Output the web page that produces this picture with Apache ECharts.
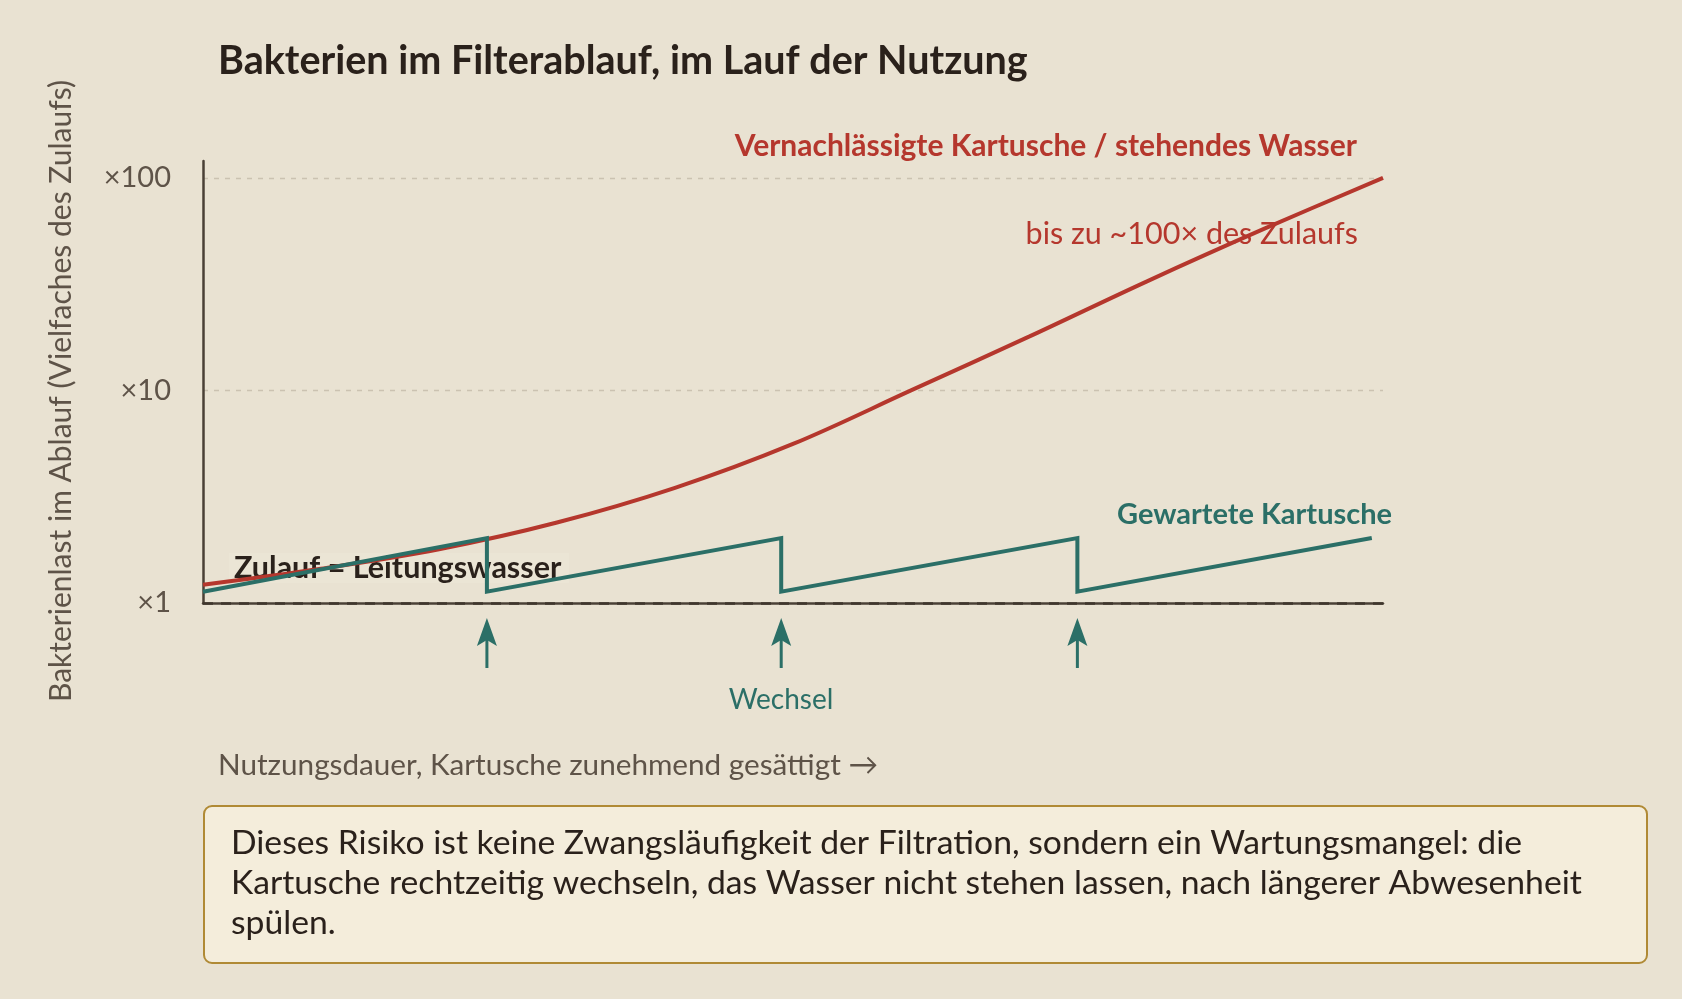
<!DOCTYPE html>
<html><head><meta charset="utf-8">
<script src="https://cdn.jsdelivr.net/npm/echarts@6/dist/echarts.min.js"></script>
<style>html,body{margin:0;padding:0;background:#e9e2d2;}#c{width:1682px;height:999px;}</style>
</head><body><div id="c"></div>
<script>
// ---- data ----
const usage = [0, 10, 20, 30, 40, 50, 60, 70, 80, 90, 100];
const neglected = [1.22, 1.45, 1.79, 2.39, 3.48, 5.6, 10.0, 17.9, 32.6, 57.8, 100];
const changes = [24.06, 49.0, 74.1];
const usageEnd = 99.05;
const maintainedPeak = 2.02;
const maintainedTrough = 1.13;
const yTicks = [1, 10, 100];
const tickLabels = {1: '×1', 10: '×10', 100: '×100'};

const RED = '#b5372d', TEAL = '#2b6f67', DARK = '#2a211b', GRAY = '#5e5348';
const FONT = 'Lato, "Open Sans", sans-serif';

// maintained sawtooth built from the readings
const maintained = [[0, maintainedTrough]];
changes.forEach(c => { maintained.push([c, maintainedPeak]); maintained.push([c, maintainedTrough]); });
maintained.push([usageEnd, maintainedPeak]);

const chart = echarts.init(document.getElementById('c'), null, {renderer: 'canvas'});
chart.setOption({
  backgroundColor: '#e9e2d2',
  animation: false,
  grid: {left: 203, right: 299, top: 161, bottom: 396},
  xAxis: {type: 'value', min: 0, max: 100,
    axisLine: {show: true, lineStyle: {color: '#4a4036', width: 2.5}},
    axisTick: {show: false}, axisLabel: {show: false}, splitLine: {show: false}},
  yAxis: {type: 'log', logBase: 10, min: 1, max: 120,
    axisLine: {show: true, lineStyle: {color: '#4a4036', width: 2.5}},
    axisTick: {show: false},
    axisLabel: {showMaxLabel: false, margin: 32, color: GRAY, fontFamily: FONT, fontSize: 29,
      formatter: v => tickLabels[Math.round(v)] || ''},
    splitLine: {show: true, showMinLine: false, showMaxLine: false,
      lineStyle: {type: [5, 6], color: '#cbc2b1', width: 1.3}}},
  series: [
    {type: 'line', data: usage.map((x, i) => [x, neglected[i]]), smooth: 0.35, symbol: 'none',
      lineStyle: {color: RED, width: 4}, z: 3,
      markLine: {silent: true, symbol: 'none', label: {show: false},
        lineStyle: {color: '#3f362d', type: [10, 8], width: 2.5},
        data: [[{coord: [0, 1]}, {coord: [100, 1]}]]}},
    {type: 'line', data: maintained, symbol: 'none',
      lineStyle: {color: TEAL, width: 4, join: 'miter'}, z: 4},
    {type: 'custom', data: changes.map(c => [c]), encode: {x: 0}, clip: false, z: 5,
      renderItem: (params, api) => {
        const p = api.coord([api.value(0), 1]);
        const x = p[0], y = p[1];
        return {type: 'group', children: [
          {type: 'line', shape: {x1: x, y1: y + 65, x2: x, y2: y + 36}, style: {stroke: TEAL, lineWidth: 3}},
          {type: 'polygon', shape: {points: [[x, y + 15], [x - 10, y + 43], [x, y + 37], [x + 10, y + 43]]},
            style: {fill: TEAL}}
        ]};
      }}
  ],
  graphic: [
    {type: 'text', x: 218, y: 61, style: {text: 'Bakterien im Filterablauf, im Lauf der Nutzung',
      font: 'bold 39.5px ' + FONT, fill: DARK, verticalAlign: 'middle'}},
    {type: 'text', x: 61, y: 391, rotation: Math.PI / 2, style: {text: 'Bakterienlast im Ablauf (Vielfaches des Zulaufs)',
      font: '30px ' + FONT, fill: GRAY, align: 'center', verticalAlign: 'middle'}},
    {type: 'text', x: 1357, y: 146, style: {text: 'Vernachlässigte Kartusche / stehendes Wasser',
      font: 'bold 30px ' + FONT, fill: RED, align: 'right', verticalAlign: 'middle'}},
    {type: 'text', x: 1358, y: 234, style: {text: 'bis zu ~100× des Zulaufs',
      font: '30.5px ' + FONT, fill: RED, align: 'right', verticalAlign: 'middle'}},
    {type: 'text', x: 1117, y: 515, style: {text: 'Gewartete Kartusche',
      font: 'bold 29px ' + FONT, fill: TEAL, align: 'left', verticalAlign: 'middle'}},
    {type: 'rect', shape: {x: 229, y: 553, width: 340, height: 30}, style: {fill: '#ebe5d5'}, z: 1},
    {type: 'text', x: 234, y: 568, z: 2, style: {text: 'Zulauf = Leitungswasser',
      font: 'bold 30.5px ' + FONT, fill: DARK, align: 'left', verticalAlign: 'middle'}},
    {type: 'text', x: 781, y: 700, style: {text: 'Wechsel',
      font: '28px ' + FONT, fill: TEAL, align: 'center', verticalAlign: 'middle'}},
    {type: 'text', x: 218, y: 765, style: {text: 'Nutzungsdauer, Kartusche zunehmend gesättigt →',
      font: '29.7px ' + FONT, fill: GRAY, align: 'left', verticalAlign: 'middle'}},
    {type: 'rect', shape: {x: 204, y: 806, width: 1443, height: 157, r: 8},
      style: {fill: '#f4eddb', stroke: '#b08a35', lineWidth: 2}},
    {type: 'text', x: 231, y: 823, style: {
      text: 'Dieses Risiko ist keine Zwangsläufigkeit der Filtration, sondern ein Wartungsmangel: die\nKartusche rechtzeitig wechseln, das Wasser nicht stehen lassen, nach längerer Abwesenheit\nspülen.',
      font: '33.7px ' + FONT, fill: DARK, lineHeight: 40, verticalAlign: 'top'}}
  ]
});
</script></body></html>
